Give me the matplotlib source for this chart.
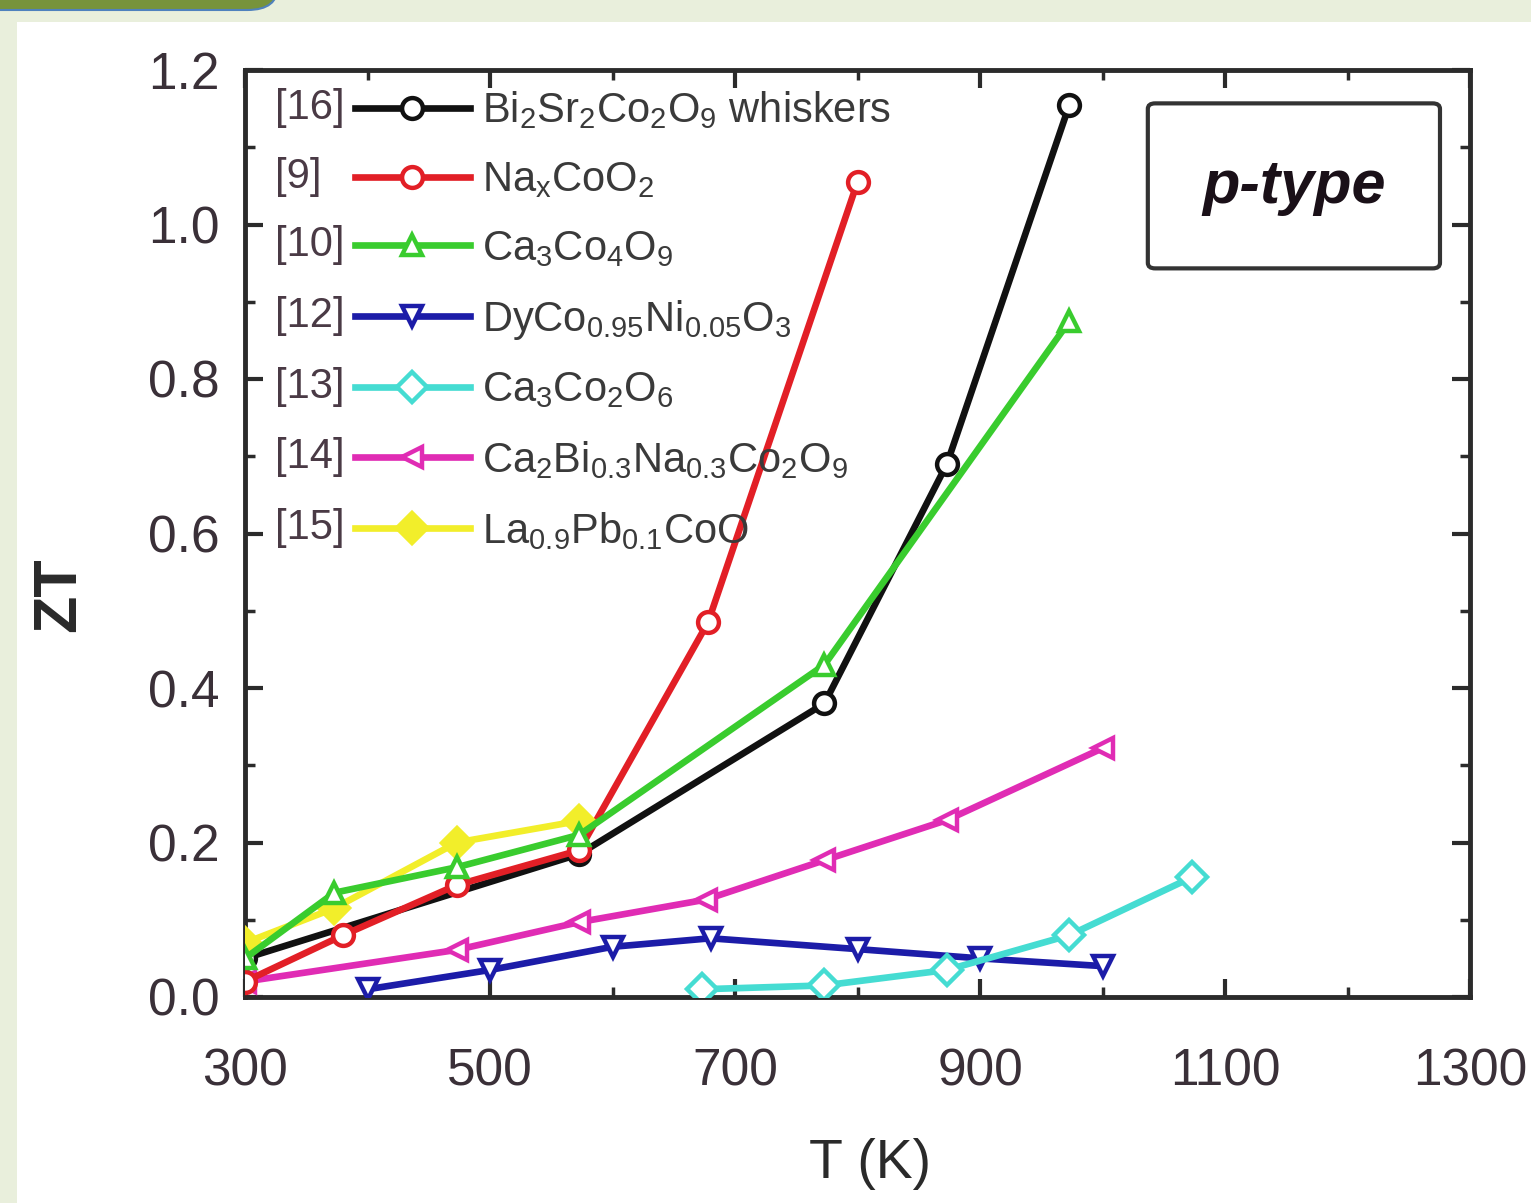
import numpy as np
import matplotlib
matplotlib.use('Agg')
import matplotlib.pyplot as plt
from matplotlib import font_manager as fm
from matplotlib.patches import Rectangle, FancyBboxPatch
from matplotlib.ticker import MultipleLocator, FormatStrFormatter

names = {f.name for f in fm.fontManager.ttflist}
base = 'Liberation Sans Narrow' if 'Liberation Sans Narrow' in names else 'Liberation Sans'
plt.rcParams['font.family'] = [base, 'DejaVu Sans']
plt.rcParams['mathtext.default'] = 'regular'

# ---------------- data ----------------
refs = ['[16]', '[9]', '[10]', '[12]', '[13]', '[14]', '[15]']
labels = [r'Bi$_2$Sr$_2$Co$_2$O$_9$ whiskers',
          r'Na$_x$CoO$_2$',
          r'Ca$_3$Co$_4$O$_9$',
          r'DyCo$_{0.95}$Ni$_{0.05}$O$_3$',
          r'Ca$_3$Co$_2$O$_6$',
          r'Ca$_2$Bi$_{0.3}$Na$_{0.3}$Co$_2$O$_9$',
          r'La$_{0.9}$Pb$_{0.1}$CoO']

T_bsco = [300, 573, 773, 873, 973]
ZT_bsco = [0.05, 0.185, 0.38, 0.69, 1.155]

T_naco = [300, 380, 473, 573, 678, 800]
ZT_naco = [0.02, 0.08, 0.145, 0.19, 0.485, 1.055]

T_ca349 = [300, 373, 473, 573, 773, 973]
ZT_ca349 = [0.05, 0.135, 0.168, 0.21, 0.43, 0.875]

T_dy = [400, 500, 600, 680, 800, 900, 1000]
ZT_dy = [0.01, 0.035, 0.065, 0.076, 0.062, 0.05, 0.04]

T_ca326 = [673, 773, 873, 973, 1073]
ZT_ca326 = [0.01, 0.015, 0.035, 0.08, 0.155]

T_cabi = [300, 473, 573, 676, 773, 873, 1000]
ZT_cabi = [0.02, 0.061, 0.097, 0.126, 0.177, 0.229, 0.322]

T_la = [300, 373, 473, 573]
ZT_la = [0.07, 0.115, 0.2, 0.228]

xticks = [300, 500, 700, 900, 1100, 1300]
yticks = [0.0, 0.2, 0.4, 0.6, 0.8, 1.0, 1.2]

series = [
    (T_bsco, ZT_bsco, '#111111', 'o', 'white', 3),
    (T_naco, ZT_naco, '#e21f26', 'o', 'white', 4),
    (T_ca349, ZT_ca349, '#39cc2e', '^', 'white', 5),
    (T_dy, ZT_dy, '#1c1ca8', 'v', 'white', 3),
    (T_ca326, ZT_ca326, '#45dcd2', 'D', 'white', 3),
    (T_cabi, ZT_cabi, '#e02cb4', '<', 'white', 3),
    (T_la, ZT_la, '#f2ee2a', 'D', '#f2ee2a', 4.5),
]

W, H = 1531, 1203
fig = plt.figure(figsize=(W / 100, H / 100), dpi=100)
fig.patch.set_facecolor('#e9efdc')
fig.add_artist(Rectangle((17 / W, 0), 1, 1 - 22 / H, transform=fig.transFigure,
                         facecolor='white', edgecolor='none', zorder=0))
fig.add_artist(FancyBboxPatch((-40 / W, 1 - 10 / H), 318 / W, 60 / H,
                              boxstyle='round,pad=0,rounding_size=0.02',
                              transform=fig.transFigure, facecolor='#77933c',
                              edgecolor='#4f81bd', lw=1.5, zorder=1))

ax = fig.add_axes([245 / W, 1 - 997 / H, 1225 / W, 927 / H])
ax.set_facecolor('white')

handles = []
for (t, z, c, m, fc, zo), lab in zip(series, labels):
    h, = ax.plot(t, z, color=c, lw=4.8, marker=m, ms=15, mfc=fc, mec=c, mew=3.2,
                 label=lab, zorder=zo)
    handles.append(h)

ax.set_xlim(300, 1300)
ax.set_ylim(0, 1.2)
ax.set_xticks(xticks)
ax.set_yticks(yticks)
ax.xaxis.set_minor_locator(MultipleLocator(100))
ax.yaxis.set_minor_locator(MultipleLocator(0.1))
ax.yaxis.set_major_formatter(FormatStrFormatter('%.1f'))

for s in ax.spines.values():
    s.set_linewidth(3.5)
    s.set_color('#2b2b2b')
ax.tick_params(which='both', direction='in', top=True, right=True,
               color='#2b2b2b', labelcolor='#3a3038')
ax.tick_params(which='major', length=13, width=3, labelsize=37)
ax.tick_params(which='minor', length=7, width=2.5)
ax.tick_params(axis='y', which='major', pad=18)
ax.tick_params(axis='x', which='major', pad=36)

ax.set_xlabel('T (K)', fontsize=40, color='#2a2a2a')
ax.xaxis.set_label_coords(0.510, -0.152)
ax.set_ylabel('ZT', fontsize=44, fontweight='bold', color='#2a2a2a')
ax.yaxis.set_label_coords(-0.128, 0.434)

leg = ax.legend(handles=handles, loc='upper left', bbox_to_anchor=(0.0898, 0.979),
                borderaxespad=0, borderpad=0, frameon=False, fontsize=30,
                handlelength=2.75, handletextpad=0.3, labelspacing=0.69)
for tx in leg.get_texts():
    tx.set_color('#3a3a3a')

ax.add_patch(FancyBboxPatch((0.737, 0.786), 0.2385, 0.178,
                            boxstyle='round,pad=0,rounding_size=0.006',
                            transform=ax.transAxes, facecolor='white',
                            edgecolor='#333333', lw=3, zorder=6))
ax.text(0.856, 0.873, 'p-type', transform=ax.transAxes, ha='center', va='center',
        fontsize=44, fontstyle='italic', fontweight='bold', color='#1a1018', zorder=7)

fig.canvas.draw()
r = fig.canvas.get_renderer()
for h, rl in zip(leg.legend_handles, refs):
    bb = h.get_window_extent(r)
    yc = 0.5 * (bb.y0 + bb.y1)
    fig.text(275 / W, yc / fig.bbox.height, rl, ha='left', va='center',
             fontsize=30, color='#4a3a45')

fig.savefig('out.png', dpi=100, facecolor=fig.get_facecolor())
